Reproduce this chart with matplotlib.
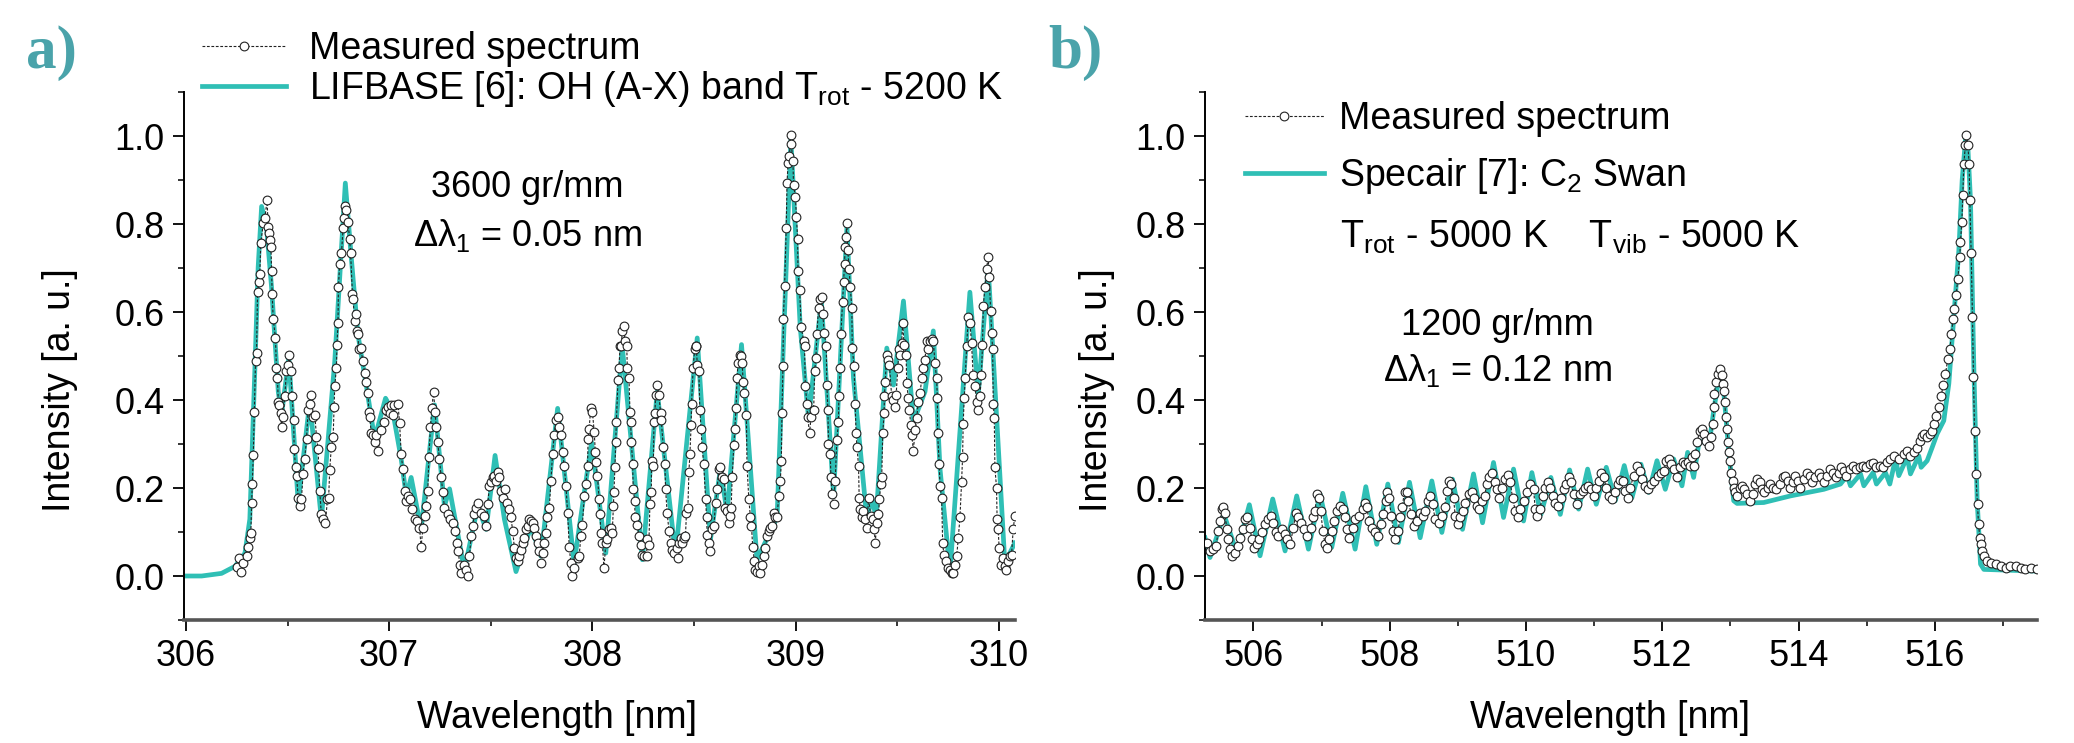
import numpy as np
import matplotlib
matplotlib.use('Agg')
import matplotlib.pyplot as plt
from matplotlib.ticker import MultipleLocator, FormatStrFormatter

plt.rcParams['font.family'] = ['Liberation Sans', 'DejaVu Sans']
plt.rcParams['mathtext.default'] = 'regular'
plt.rcParams['font.size'] = 26

# ======================
# Data
# ======================

# a) OH (A-X) band, measured spectrum
wl_a_meas = np.array([
    306.249, 306.260, 306.270, 306.282, 306.298, 306.306, 306.314, 306.319, 306.323, 306.326,
    306.331, 306.336, 306.342, 306.347, 306.352, 306.359, 306.363, 306.368, 306.380, 306.388,
    306.399, 306.404, 306.409, 306.413, 306.418, 306.421, 306.424, 306.429, 306.440, 306.445,
    306.450, 306.454, 306.458, 306.465, 306.470, 306.478, 306.486, 306.494, 306.503, 306.508,
    306.516, 306.522, 306.530, 306.532, 306.539, 306.544, 306.552, 306.560, 306.568, 306.576,
    306.584, 306.593, 306.601, 306.609, 306.617, 306.625, 306.634, 306.642, 306.650, 306.653,
    306.658, 306.666, 306.675, 306.686, 306.696, 306.702, 306.707, 306.715, 306.724, 306.729,
    306.732, 306.740, 306.743, 306.748, 306.750, 306.756, 306.765, 306.773, 306.778, 306.784,
    306.789, 306.797, 306.805, 306.810, 306.819, 306.822, 306.830, 306.838, 306.843, 306.846,
    306.850, 306.859, 306.871, 306.879, 306.887, 306.896, 306.899, 306.904, 306.912, 306.920,
    306.928, 306.936, 306.945, 306.961, 306.974, 306.986, 306.994, 307.002, 307.010, 307.018,
    307.026, 307.043, 307.051, 307.059, 307.067, 307.076, 307.084, 307.092, 307.100, 307.112,
    307.125, 307.138, 307.149, 307.157, 307.166, 307.174, 307.182, 307.190, 307.195, 307.203,
    307.210, 307.218, 307.226, 307.231, 307.239, 307.247, 307.256, 307.264, 307.272, 307.288,
    307.301, 307.313, 307.324, 307.334, 307.341, 307.346, 307.354, 307.370, 307.378, 307.387,
    307.395, 307.403, 307.411, 307.419, 307.428, 307.436, 307.452, 307.465, 307.477, 307.485,
    307.493, 307.501, 307.509, 307.518, 307.526, 307.534, 307.542, 307.550, 307.558, 307.570,
    307.580, 307.591, 307.599, 307.608, 307.616, 307.624, 307.632, 307.640, 307.649, 307.657,
    307.665, 307.673, 307.681, 307.689, 307.698, 307.706, 307.714, 307.722, 307.730, 307.739,
    307.747, 307.755, 307.763, 307.771, 307.779, 307.788, 307.796, 307.804, 307.812, 307.820,
    307.829, 307.837, 307.845, 307.853, 307.861, 307.870, 307.878, 307.886, 307.894, 307.902,
    307.910, 307.927, 307.935, 307.943, 307.951, 307.960, 307.968, 307.976, 307.979, 307.984,
    307.992, 308.000, 308.009, 308.014, 308.017, 308.025, 308.033, 308.038,
    308.041, 308.049, 308.057, 308.066, 308.074, 308.082, 308.090, 308.098, 308.103, 308.106,
    308.111, 308.115, 308.118, 308.126, 308.131, 308.136, 308.142, 308.147, 308.156, 308.160,
    308.169, 308.172, 308.180, 308.185, 308.188, 308.192, 308.198, 308.201, 308.208, 308.210,
    308.221, 308.229, 308.237, 308.246, 308.254, 308.267, 308.270, 308.278, 308.283, 308.290,
    308.291, 308.300, 308.303, 308.308, 308.311, 308.319, 308.327, 308.336, 308.339, 308.349,
    308.357, 308.360, 308.368, 308.377, 308.385, 308.393, 308.401, 308.414, 308.421, 308.426,
    308.434, 308.442, 308.450, 308.458, 308.463, 308.470, 308.475, 308.480, 308.486, 308.488,
    308.496, 308.503, 308.508, 308.512, 308.516, 308.524, 308.529, 308.535, 308.540, 308.548,
    308.557, 308.562, 308.565, 308.573, 308.578, 308.589, 308.598, 308.606, 308.614, 308.622,
    308.630, 308.639, 308.650, 308.655, 308.663, 308.671, 308.676, 308.683, 308.688, 308.696,
    308.701, 308.707, 308.712, 308.717, 308.725, 308.733, 308.737, 308.742, 308.748, 308.758,
    308.761, 308.770, 308.778, 308.783, 308.789, 308.797, 308.802, 308.810, 308.819, 308.827,
    308.835, 308.843, 308.851, 308.860, 308.868, 308.876, 308.884, 308.892, 308.900, 308.909,
    308.917, 308.925, 308.930, 308.933, 308.938, 308.940, 308.946, 308.954, 308.958, 308.963,
    308.969, 308.977, 308.979, 308.987, 308.990, 308.999, 309.004, 309.010, 309.012, 309.020,
    309.028, 309.040, 309.044, 309.048, 309.056, 309.059, 309.069, 309.076, 309.089, 309.094,
    309.100, 309.105, 309.113, 309.121, 309.130, 309.134, 309.141, 309.151, 309.154, 309.159,
    309.162, 309.171, 309.174, 309.179, 309.187, 309.195, 309.203, 309.211, 309.213, 309.220,
    309.223, 309.231, 309.236, 309.241, 309.244, 309.248, 309.252, 309.257, 309.264, 309.269,
    309.277, 309.279, 309.288, 309.293, 309.298, 309.302, 309.310, 309.313, 309.318, 309.326,
    309.334, 309.342, 309.351, 309.359, 309.370, 309.380, 309.387, 309.392, 309.400, 309.408,
    309.413, 309.419, 309.424, 309.429, 309.436, 309.437, 309.441, 309.449, 309.457, 309.462,
    309.473, 309.482, 309.490, 309.495, 309.503, 309.509, 309.514, 309.522, 309.527, 309.534,
    309.544, 309.547, 309.555, 309.560, 309.567, 309.572, 309.580, 309.588, 309.596, 309.604,
    309.613, 309.621, 309.629, 309.637, 309.645, 309.653, 309.662, 309.670, 309.678, 309.686,
    309.694, 309.698, 309.699, 309.707, 309.711, 309.719, 309.724, 309.730, 309.740, 309.752,
    309.760, 309.768, 309.776, 309.784, 309.793, 309.801, 309.809, 309.817, 309.822, 309.825,
    309.830, 309.835, 309.842, 309.850, 309.858, 309.866, 309.874, 309.883, 309.891, 309.899,
    309.907, 309.915, 309.920, 309.924, 309.932, 309.940, 309.948, 309.953, 309.960, 309.965,
    309.970, 309.973, 309.978, 309.981, 309.989, 309.992, 309.997, 310.002, 310.013, 310.022,
    310.030, 310.038, 310.046, 310.054, 310.063, 310.071, 310.079])
int_a_meas = np.array([
    0.020, 0.040, 0.010, 0.030, 0.045, 0.067, 0.087, 0.098, 0.167, 0.209,
    0.274, 0.373, 0.488, 0.507, 0.645, 0.668, 0.687, 0.756, 0.802, 0.813,
    0.855, 0.794, 0.779, 0.763, 0.748, 0.694, 0.641, 0.584, 0.542, 0.473,
    0.450, 0.396, 0.389, 0.370, 0.339, 0.362, 0.408, 0.465, 0.480, 0.503,
    0.465, 0.408, 0.354, 0.289, 0.247, 0.228, 0.178, 0.159, 0.174, 0.232,
    0.266, 0.312, 0.377, 0.392, 0.411, 0.362, 0.366, 0.316, 0.289, 0.247,
    0.194, 0.140, 0.129, 0.121, 0.174, 0.178, 0.240, 0.293, 0.316, 0.385,
    0.431, 0.473, 0.526, 0.576, 0.656, 0.710, 0.733, 0.790, 0.813, 0.840,
    0.832, 0.805, 0.767, 0.733, 0.641, 0.629, 0.580, 0.595, 0.557, 0.549,
    0.515, 0.518, 0.488, 0.461, 0.442, 0.415, 0.373, 0.362, 0.324, 0.320,
    0.304, 0.320, 0.285, 0.331, 0.350, 0.377, 0.385, 0.370, 0.389, 0.366,
    0.389, 0.392, 0.347, 0.278, 0.243, 0.194, 0.171, 0.182, 0.174, 0.152,
    0.129, 0.125, 0.110, 0.067, 0.110, 0.136, 0.159, 0.194, 0.270, 0.339,
    0.381, 0.419, 0.373, 0.339, 0.304, 0.266, 0.224, 0.190, 0.155, 0.140,
    0.129, 0.121, 0.102, 0.075, 0.056, 0.026, 0.006, 0.026, 0.014, 0.000,
    0.045, 0.090, 0.113, 0.140, 0.155, 0.167, 0.144, 0.136, 0.113, 0.163,
    0.205, 0.213, 0.224, 0.228, 0.217, 0.236, 0.224, 0.194, 0.178, 0.198,
    0.167, 0.152, 0.133, 0.102, 0.064, 0.041, 0.033, 0.045, 0.060, 0.075,
    0.087, 0.106, 0.113, 0.129, 0.125, 0.121, 0.110, 0.090, 0.075, 0.056,
    0.029, 0.052, 0.075, 0.098, 0.133, 0.155, 0.217, 0.278, 0.320, 0.354,
    0.362, 0.339, 0.320, 0.282, 0.251, 0.205, 0.144, 0.067, 0.029, 0.000,
    0.018, 0.041, 0.045, 0.090, 0.117, 0.182, 0.209, 0.251, 0.312, 0.335,
    0.381, 0.373, 0.328, 0.282, 0.259, 0.228, 0.174, 0.140,
    0.098, 0.075, 0.018, 0.075, 0.083, 0.106, 0.110, 0.098, 0.159, 0.190,
    0.247, 0.304, 0.350, 0.446, 0.473, 0.522, 0.522, 0.557, 0.568, 0.534,
    0.522, 0.473, 0.450, 0.373, 0.350, 0.304, 0.255, 0.198, 0.171, 0.133,
    0.117, 0.090, 0.071, 0.048, 0.045, 0.045, 0.083, 0.071, 0.163, 0.190,
    0.262, 0.251, 0.350, 0.370, 0.412, 0.434, 0.412, 0.370, 0.354, 0.293,
    0.255, 0.198, 0.144, 0.102, 0.075, 0.060, 0.052, 0.064, 0.041, 0.075,
    0.087, 0.075, 0.087, 0.090, 0.144, 0.155, 0.236, 0.278, 0.343, 0.392,
    0.473, 0.515, 0.522, 0.522, 0.480, 0.465, 0.377, 0.335, 0.293, 0.255,
    0.174, 0.133, 0.094, 0.075, 0.056, 0.106, 0.113, 0.167, 0.198, 0.243,
    0.247, 0.224, 0.220, 0.155, 0.148, 0.121, 0.136, 0.155, 0.224, 0.297,
    0.335, 0.381, 0.450, 0.484, 0.503, 0.500, 0.484, 0.442, 0.415, 0.366,
    0.251, 0.174, 0.133, 0.113, 0.067, 0.033, 0.014, 0.010, 0.022, 0.006,
    0.026, 0.045, 0.064, 0.090, 0.102, 0.110, 0.113, 0.144, 0.133, 0.133,
    0.182, 0.217, 0.262, 0.370, 0.477, 0.584, 0.660, 0.790, 0.893, 0.939,
    0.954, 1.002, 0.981, 0.943, 0.889, 0.862, 0.817, 0.767, 0.694, 0.649,
    0.565, 0.534, 0.522, 0.431, 0.392, 0.362, 0.324, 0.362, 0.377, 0.465,
    0.496, 0.549, 0.610, 0.629, 0.633, 0.595, 0.553, 0.522, 0.434, 0.377,
    0.301, 0.278, 0.224, 0.186, 0.163, 0.217, 0.308, 0.350, 0.408, 0.473,
    0.549, 0.622, 0.668, 0.710, 0.748, 0.771, 0.802, 0.740, 0.698, 0.656,
    0.610, 0.518, 0.477, 0.392, 0.324, 0.293, 0.251, 0.178, 0.152, 0.133,
    0.148, 0.129, 0.110, 0.178, 0.136, 0.129, 0.106, 0.075, 0.121, 0.140,
    0.174, 0.209, 0.224, 0.324, 0.370, 0.408, 0.442, 0.503, 0.492, 0.480,
    0.408, 0.400, 0.385, 0.412, 0.473, 0.515, 0.503, 0.530, 0.576, 0.526,
    0.503, 0.438, 0.404, 0.377, 0.343, 0.320, 0.285, 0.331, 0.358, 0.396,
    0.415, 0.450, 0.473, 0.492, 0.534, 0.515, 0.534, 0.538, 0.534, 0.484,
    0.450, 0.404, 0.324, 0.255, 0.205, 0.178, 0.075, 0.048, 0.033, 0.018,
    0.014, 0.006, 0.006, 0.026, 0.045, 0.087, 0.133, 0.213, 0.270, 0.346,
    0.404, 0.450, 0.522, 0.588, 0.576, 0.530, 0.457, 0.431, 0.396, 0.377,
    0.408, 0.457, 0.526, 0.614, 0.656, 0.698, 0.725, 0.679, 0.603, 0.553,
    0.515, 0.392, 0.358, 0.247, 0.201, 0.129, 0.106, 0.064, 0.026, 0.041,
    0.022, 0.014, 0.033, 0.045, 0.048, 0.106, 0.136])

# a) LIFBASE simulation
wl_a_fit = np.array([
    306.000, 306.077, 306.175, 306.241, 306.290, 306.314, 306.339, 306.355, 306.372, 306.396,
    306.421, 306.454, 306.470, 306.506, 306.552, 306.609, 306.666, 306.732, 306.784, 306.814,
    306.846, 306.887, 306.928, 306.982, 307.018, 307.059, 307.084, 307.108, 307.157, 307.223,
    307.272, 307.297, 307.370, 307.436, 307.477, 307.521, 307.567, 307.624, 307.698, 307.747,
    307.829, 307.910, 307.996, 308.066, 308.147, 308.246, 308.319, 308.409, 308.516, 308.581,
    308.630, 308.663, 308.734, 308.810, 308.909, 308.977, 309.023, 309.064, 309.127, 309.187,
    309.253, 309.285, 309.351, 309.375, 309.397, 309.449, 309.482, 309.531, 309.580, 309.637,
    309.678, 309.711, 309.760, 309.858, 309.899, 309.948, 310.030, 310.079])
int_a_fit = np.array([
    0.000, 0.000, 0.006, 0.022, 0.052, 0.129, 0.473, 0.702, 0.840, 0.794,
    0.656, 0.419, 0.366, 0.496, 0.167, 0.396, 0.129, 0.488, 0.893, 0.720,
    0.549, 0.434, 0.312, 0.404, 0.373, 0.266, 0.182, 0.224, 0.106, 0.389,
    0.159, 0.198, 0.014, 0.159, 0.106, 0.274, 0.129, 0.010, 0.113, 0.045,
    0.381, 0.029, 0.304, 0.052, 0.522, 0.037, 0.419, 0.048, 0.541, 0.083,
    0.243, 0.144, 0.526, 0.037, 0.133, 0.993, 0.565, 0.358, 0.625, 0.182,
    0.794, 0.450, 0.129, 0.178, 0.133, 0.518, 0.434, 0.625, 0.350, 0.419,
    0.557, 0.243, 0.010, 0.645, 0.412, 0.702, 0.029, 0.075])

# b) C2 Swan band, measured spectrum
wl_b_meas = np.array([
    505.320, 505.364, 505.413, 505.452, 505.486, 505.511, 505.535, 505.560, 505.584, 505.609,
    505.633, 505.658, 505.682, 505.731, 505.780, 505.804, 505.844, 505.878, 505.912, 505.951,
    505.976, 506.010, 506.049, 506.088, 506.123, 506.171, 506.220, 506.255, 506.294, 506.333,
    506.367, 506.416, 506.465, 506.499, 506.539, 506.588, 506.622, 506.661, 506.695, 506.744,
    506.793, 506.842, 506.881, 506.906, 506.930, 506.969, 506.989, 507.018, 507.053, 507.077,
    507.116, 507.150, 507.185, 507.224, 507.273, 507.312, 507.346, 507.371, 507.410, 507.459,
    507.493, 507.557, 507.606, 507.640, 507.664, 507.699, 507.738, 507.787, 507.836, 507.875,
    507.909, 507.943, 507.958, 507.992, 508.022, 508.056, 508.081, 508.120, 508.154, 508.178,
    508.218, 508.252, 508.276, 508.315, 508.350, 508.399, 508.438, 508.482, 508.521, 508.560,
    508.594, 508.629, 508.668, 508.717, 508.766, 508.805, 508.839, 508.873, 508.903, 508.937,
    508.962, 509.001, 509.035, 509.069, 509.108, 509.157, 509.206, 509.245, 509.280, 509.314,
    509.353, 509.392, 509.427, 509.461, 509.500, 509.539, 509.573, 509.608, 509.647, 509.686,
    509.735, 509.769, 509.803, 509.843, 509.882, 509.916, 509.965, 510.014, 510.063, 510.112,
    510.136, 510.161, 510.200, 510.249, 510.283, 510.318, 510.357, 510.396, 510.430, 510.464,
    510.513, 510.552, 510.592, 510.626, 510.660, 510.699, 510.748, 510.797, 510.836, 510.871,
    510.905, 510.954, 510.993, 511.032, 511.066, 511.101, 511.140, 511.179, 511.213, 511.262,
    511.311, 511.345, 511.385, 511.424, 511.458, 511.492, 511.531, 511.580, 511.629, 511.668,
    511.703, 511.752, 511.786, 511.835, 511.884, 511.933, 511.982, 512.021, 512.060, 512.094,
    512.129, 512.168, 512.217, 512.266, 512.305, 512.339, 512.373, 512.412, 512.437, 512.462,
    512.486, 512.511, 512.550, 512.584, 512.619, 512.648, 512.682, 512.716, 512.746, 512.756,
    512.765, 512.785, 512.814, 512.844, 512.873, 512.893, 512.902, 512.917, 512.932, 512.951,
    512.966, 512.981, 513.000, 513.010, 513.040, 513.049, 513.074, 513.098, 513.137, 513.172,
    513.206, 513.245, 513.294, 513.333, 513.367, 513.392, 513.431, 513.465, 513.500, 513.549,
    513.588, 513.627, 513.676, 513.725, 513.774, 513.808, 513.842, 513.881, 513.921, 513.955,
    513.989, 514.028, 514.077, 514.126, 514.165, 514.200, 514.249, 514.297, 514.332, 514.371,
    514.420, 514.469, 514.508, 514.547, 514.591, 514.625, 514.665, 514.704, 514.753, 514.802,
    514.851, 514.900, 514.949, 514.997, 515.046, 515.095, 515.144, 515.193, 515.242, 515.301,
    515.340, 515.398, 515.472, 515.545, 515.594, 515.643, 515.692, 515.741, 515.780, 515.814,
    515.848, 515.888, 515.927, 515.961, 515.995, 516.025, 516.059, 516.093, 516.123, 516.157,
    516.191, 516.221, 516.245, 516.269, 516.289, 516.313, 516.338, 516.367, 516.377, 516.397,
    516.411, 516.426, 516.450, 516.465, 516.485, 516.504, 516.514, 516.534, 516.553, 516.568,
    516.583, 516.602, 516.627, 516.642, 516.661, 516.681, 516.695, 516.720, 516.759, 516.818,
    516.891, 516.965, 517.038, 517.111, 517.185, 517.258, 517.331, 517.405, 517.493])
int_b_meas = np.array([
    0.075, 0.057, 0.061, 0.068, 0.103, 0.125, 0.152, 0.157, 0.144, 0.106,
    0.083, 0.061, 0.046, 0.053, 0.068, 0.087, 0.106, 0.129, 0.133, 0.110,
    0.083, 0.064, 0.072, 0.083, 0.099, 0.118, 0.129, 0.137, 0.121, 0.099,
    0.091, 0.106, 0.095, 0.083, 0.072, 0.110, 0.144, 0.133, 0.121, 0.106,
    0.091, 0.110, 0.133, 0.148, 0.186, 0.178, 0.148, 0.103, 0.072, 0.064,
    0.083, 0.103, 0.125, 0.148, 0.160, 0.152, 0.133, 0.106, 0.087, 0.110,
    0.129, 0.137, 0.152, 0.167, 0.156, 0.125, 0.110, 0.099, 0.091, 0.118,
    0.140, 0.171, 0.192, 0.178, 0.137, 0.102, 0.084, 0.102, 0.133, 0.156,
    0.190, 0.190, 0.171, 0.140, 0.114, 0.125, 0.144, 0.137, 0.148, 0.171,
    0.182, 0.163, 0.129, 0.121, 0.137, 0.156, 0.194, 0.216, 0.210, 0.178,
    0.137, 0.118, 0.133, 0.148, 0.167, 0.186, 0.192, 0.178, 0.159, 0.152,
    0.171, 0.182, 0.209, 0.224, 0.235, 0.213, 0.197, 0.178, 0.201, 0.220,
    0.230, 0.213, 0.178, 0.148, 0.133, 0.152, 0.171, 0.190, 0.210, 0.197,
    0.152, 0.137, 0.152, 0.182, 0.201, 0.213, 0.201, 0.182, 0.167, 0.159,
    0.178, 0.197, 0.209, 0.224, 0.213, 0.186, 0.163, 0.186, 0.194, 0.201,
    0.205, 0.197, 0.182, 0.201, 0.216, 0.235, 0.224, 0.201, 0.182, 0.175,
    0.190, 0.209, 0.218, 0.216, 0.194, 0.178, 0.201, 0.228, 0.251, 0.239,
    0.220, 0.205, 0.197, 0.209, 0.216, 0.228, 0.235, 0.239, 0.262, 0.266,
    0.254, 0.243, 0.224, 0.247, 0.258, 0.254, 0.258, 0.251, 0.270, 0.251,
    0.277, 0.304, 0.330, 0.334, 0.323, 0.307, 0.296, 0.315, 0.345, 0.383,
    0.414, 0.440, 0.459, 0.471, 0.456, 0.437, 0.421, 0.395, 0.361, 0.334,
    0.304, 0.281, 0.262, 0.235, 0.216, 0.201, 0.190, 0.182, 0.201, 0.205,
    0.197, 0.186, 0.171, 0.186, 0.209, 0.220, 0.213, 0.197, 0.190, 0.201,
    0.209, 0.201, 0.197, 0.209, 0.224, 0.228, 0.216, 0.201, 0.213, 0.228,
    0.216, 0.201, 0.220, 0.235, 0.228, 0.213, 0.224, 0.235, 0.224, 0.213,
    0.228, 0.243, 0.235, 0.224, 0.235, 0.247, 0.239, 0.228, 0.243, 0.251,
    0.243, 0.247, 0.251, 0.247, 0.254, 0.256, 0.247, 0.251, 0.247, 0.258,
    0.266, 0.273, 0.266, 0.277, 0.285, 0.273, 0.281, 0.292, 0.307, 0.319,
    0.323, 0.315, 0.323, 0.330, 0.345, 0.364, 0.383, 0.410, 0.433, 0.459,
    0.494, 0.516, 0.550, 0.585, 0.607, 0.638, 0.676, 0.725, 0.759, 0.805,
    0.865, 0.937, 0.980, 1.002, 0.980, 0.937, 0.854, 0.733, 0.589, 0.452,
    0.330, 0.232, 0.163, 0.118, 0.087, 0.072, 0.057, 0.046, 0.034, 0.030,
    0.027, 0.023, 0.019, 0.023, 0.023, 0.019, 0.017, 0.019, 0.015])

# b) Specair simulation
wl_b_fit = np.array([
    505.290, 505.364, 505.569, 505.755, 505.941, 506.098, 506.284, 506.465, 506.636, 506.808,
    506.979, 507.150, 507.312, 507.493, 507.650, 507.811, 507.973, 508.129, 508.291, 508.448,
    508.619, 508.766, 508.922, 509.069, 509.231, 509.363, 509.524, 509.671, 509.818, 509.965,
    510.087, 510.220, 510.366, 510.504, 510.641, 510.773, 510.905, 511.032, 511.179, 511.311,
    511.443, 511.556, 511.688, 511.801, 511.923, 512.045, 512.168, 512.290, 512.373, 512.461,
    512.535, 512.609, 512.682, 512.756, 512.844, 512.902, 512.976, 513.049, 513.098, 513.490,
    513.881, 514.371, 514.616, 514.714, 514.763, 514.910, 514.959, 515.095, 515.144, 515.276,
    515.340, 515.423, 515.472, 515.594, 515.643, 515.765, 515.800, 515.888, 515.961, 516.034,
    516.132, 516.206, 516.279, 516.353, 516.402, 516.450, 516.485, 516.524, 516.573, 516.622,
    516.671, 516.720, 517.503])
int_b_fit = np.array([
    0.087, 0.042, 0.140, 0.053, 0.162, 0.046, 0.175, 0.057, 0.182, 0.061,
    0.186, 0.065, 0.188, 0.061, 0.203, 0.072, 0.209, 0.076, 0.213, 0.087,
    0.216, 0.099, 0.220, 0.106, 0.232, 0.121, 0.258, 0.133, 0.243, 0.125,
    0.235, 0.140, 0.224, 0.140, 0.241, 0.152, 0.243, 0.163, 0.247, 0.171,
    0.251, 0.178, 0.254, 0.190, 0.262, 0.197, 0.266, 0.205, 0.281, 0.224,
    0.300, 0.308, 0.292, 0.376, 0.463, 0.421, 0.285, 0.171, 0.165, 0.167,
    0.182, 0.197, 0.209, 0.228, 0.205, 0.232, 0.205, 0.235, 0.209, 0.235,
    0.209, 0.266, 0.228, 0.270, 0.232, 0.273, 0.247, 0.262, 0.292, 0.323,
    0.353, 0.437, 0.589, 0.740, 0.900, 0.991, 0.976, 0.854, 0.475, 0.171,
    0.027, 0.015, 0.011])

# ==========
# Main code
# ==========

teal = '#2fbfb5'
W, H = 2074, 743

fig = plt.figure(figsize=(W / 100, H / 100), dpi=100)
ax_a = fig.add_axes([184 / W, 123 / H, 831 / W, 528 / H])
ax_b = fig.add_axes([1205 / W, 123 / H, 832 / W, 528 / H])

meas_style = dict(ls=(0, (2.5, 1.5)), lw=0.8, color='#222222', marker='o', ms=6.3,
                  mfc='white', mec='#222222', mew=0.8, zorder=3)

ax_a.plot(wl_a_fit, int_a_fit, color=teal, lw=3.4, zorder=2,
          label='LIFBASE [6]: OH (A-X) band T$_{rot}$ - 5200 K')
ax_a.plot(wl_a_meas, int_a_meas, label='Measured spectrum', **meas_style)

ax_b.plot(wl_b_fit, int_b_fit, color=teal, lw=3.4, zorder=2,
          label='Specair [7]: C$_2$ Swan')
ax_b.plot(wl_b_meas, int_b_meas, label='Measured spectrum', **meas_style)

ax_a.set_xlim(305.99, 310.08)
ax_b.set_xlim(505.29, 517.5)

for ax, xmaj, xmin in [(ax_a, 1, 0.5), (ax_b, 2, 1)]:
    ax.set_ylim(-0.1, 1.1)
    ax.spines['top'].set_visible(False)
    ax.spines['right'].set_visible(False)
    ax.spines['left'].set_linewidth(1.4)
    ax.spines['bottom'].set_linewidth(2.6)
    ax.spines['bottom'].set_color('#555555')
    ax.xaxis.set_major_locator(MultipleLocator(xmaj))
    ax.xaxis.set_minor_locator(MultipleLocator(xmin))
    ax.yaxis.set_major_locator(MultipleLocator(0.2))
    ax.yaxis.set_minor_locator(MultipleLocator(0.1))
    ax.yaxis.set_major_formatter(FormatStrFormatter('%.1f'))
    ax.xaxis.set_major_formatter(FormatStrFormatter('%d'))
    ax.tick_params(which='major', direction='out', length=8, width=1.3, pad=6, labelsize=26)
    ax.tick_params(which='minor', direction='out', length=4, width=1.1)
    ax.set_xlabel('Wavelength [nm]', fontsize=27)
    ax.set_ylabel('Intensity [a. u.]', fontsize=27)

ax_a.yaxis.set_label_coords(-0.127, 0.436)
ax_b.yaxis.set_label_coords(-0.108, 0.436)
ax_a.xaxis.set_label_coords(0.449, -0.152)
ax_b.xaxis.set_label_coords(0.487, -0.152)

# legends (measured first)
for ax, x0, y0, sp, hl, hp in [(ax_a, 202, 31, 0.05, 2.25, 0.6),
                               (ax_b, 1245, 101, 0.5, 2.1, 0.4)]:
    h, l = ax.get_legend_handles_labels()
    ax.legend(h[::-1], l[::-1], loc='upper left', bbox_to_anchor=(x0 / W, 1 - y0 / H),
              bbox_transform=fig.transFigure, frameon=False, borderpad=0, borderaxespad=0,
              handlelength=hl, handletextpad=hp, labelspacing=sp, fontsize=27)

fig.text(1340 / W, 1 - 248 / H, 'T$_{rot}$ - 5000 K    T$_{vib}$ - 5000 K', va='baseline', fontsize=27)

fig.text(527 / W, 1 - 197 / H, '3600 gr/mm', ha='center', va='baseline', fontsize=26)
fig.text(527 / W, 1 - 246 / H, 'Δλ$_1$ = 0.05 nm', ha='center', va='baseline', fontsize=26)
fig.text(1497 / W, 1 - 335 / H, '1200 gr/mm', ha='center', va='baseline', fontsize=26)
fig.text(1497 / W, 1 - 381 / H, 'Δλ$_1$ = 0.12 nm', ha='center', va='baseline', fontsize=26)

for x0, s in [(26, 'a)'), (1048, 'b)')]:
    fig.text(x0 / W, 1 - 68 / H, s, family='Liberation Serif', weight='bold',
             fontsize=44, color='#4aa3aa', va='baseline')

fig.savefig('out.png', dpi=100)
